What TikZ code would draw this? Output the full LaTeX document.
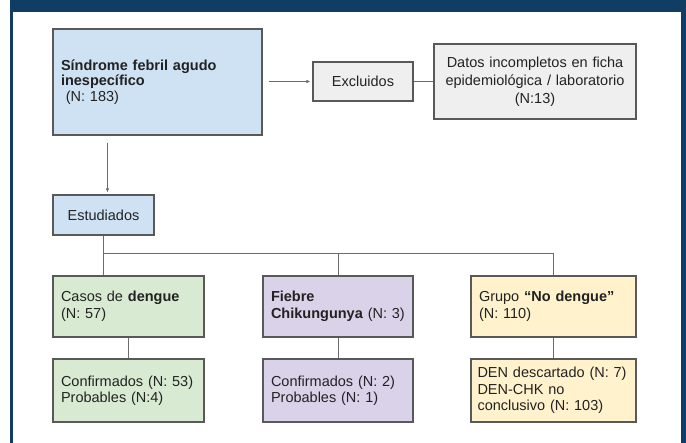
\documentclass[tikz,border=0pt]{standalone}
\usepackage{fontspec}
\setmainfont{Liberation Sans}
\usepackage{tikz}
\usetikzlibrary{arrows.meta}

\definecolor{hdrblue}{HTML}{0F3D63}
\definecolor{bordc}{HTML}{595959}
\definecolor{linec}{HTML}{6B6B6B}
\definecolor{txtc}{HTML}{222222}
\definecolor{lblue}{HTML}{CFE2F3}
\definecolor{lgray}{HTML}{EFEFEF}
\definecolor{lgreen}{HTML}{D9EAD3}
\definecolor{lpurple}{HTML}{D9D2E9}
\definecolor{lyellow}{HTML}{FFF2CC}

\begin{document}
\begin{tikzpicture}[x=1pt,y=-1pt,
  box/.style={draw=bordc, line width=1.1pt, inner xsep=8pt, inner ysep=3pt, text=txtc,
    font=\fontsize{14.5}{16.5}\selectfont},
  conn/.style={draw=linec, line width=1pt},
  arr/.style={conn, -{Latex[length=4pt,width=3.5pt]}}]
\useasboundingbox (0,0) rectangle (686,443);
% frame
\fill[white] (0,0) rectangle (686,443);
\fill[hdrblue] (10,0) rectangle (686,12);
\fill[hdrblue] (10,12) rectangle (13,443);
\fill[hdrblue] (681,12) rectangle (686,443);

\node [box, fill=lblue, text width=193pt, minimum height=106pt, align=left,
  font=\fontsize{14.5}{15.5}\selectfont] (sfa) at (157.5,82)
  {\textbf{Síndrome febril agudo}\\\textbf{inespecífico}\\\ (N: 183)};
\node [box, fill=lgray, text width=84pt, minimum height=39pt, align=center] (excl) at (363,81.5) {Excluidos};
\node [box, fill=lgray, text width=186pt, minimum height=75pt, align=center,
  font=\fontsize{14.5}{18}\selectfont] (datos) at (535,81.5)
  {Datos incompletos en ficha\\epidemiológica / laboratorio\\(N:13)};
\node [box, fill=lblue, text width=85pt, minimum height=40pt, align=center] (estud) at (103.5,215) {Estudiados};

\node [box, fill=lgreen, text width=135pt, minimum height=61pt, align=left] (casos) at (128.5,306.5)
  {Casos de \textbf{dengue}\\(N: 57)};
\node [box, fill=lpurple, text width=134pt, minimum height=61pt, align=left] (chik) at (338,306.5)
  {\textbf{Fiebre}\\\textbf{Chikungunya} (N: 3)};
\node [box, fill=lyellow, text width=149pt, minimum height=61pt, align=left] (nodeng) at (553.5,306.5)
  {Grupo \textbf{“No dengue”}\\(N: 110)};

\node [box, fill=lgreen, text width=135pt, minimum height=63pt, align=left] (conf) at (128.5,390.5)
  {Confirmados (N: 53)\\Probables (N:4)};
\node [box, fill=lpurple, text width=134pt, minimum height=63pt, align=left] (chikconf) at (338,390.5)
  {Confirmados (N: 2)\\Probables (N: 1)};
\node [box, fill=lyellow, inner xsep=6.5pt, text width=152pt, minimum height=63pt, align=left] (nodengsub) at (553.5,390.5)
  {DEN descartado (N: 7)\\DEN-CHK no\\conclusivo (N: 103)};

% exclusion branch
\draw [arr] ([xshift=6pt]sfa.east |- excl.west) -- ([xshift=-2pt]excl.west);
\draw [conn] (excl.east) -- (datos.west);
% down to estudiados
\draw [arr] ([xshift=55pt,yshift=-7pt]sfa.south west) -- ([xshift=55pt,yshift=2pt]estud.north west);

% tree
\coordinate (bus) at ([yshift=-18pt]estud.south);
\draw [conn] (estud.south) -- (estud.south |- casos.north);
\draw [conn] (bus) -| (chik.north);
\draw [conn] (bus) -| (nodeng.north);
\draw [conn] (casos.south) -- (conf.north);
\draw [conn] (chik.south) -- (chikconf.north);
\draw [conn] (nodeng.south) -- (nodengsub.north);
\end{tikzpicture}
\end{document}
